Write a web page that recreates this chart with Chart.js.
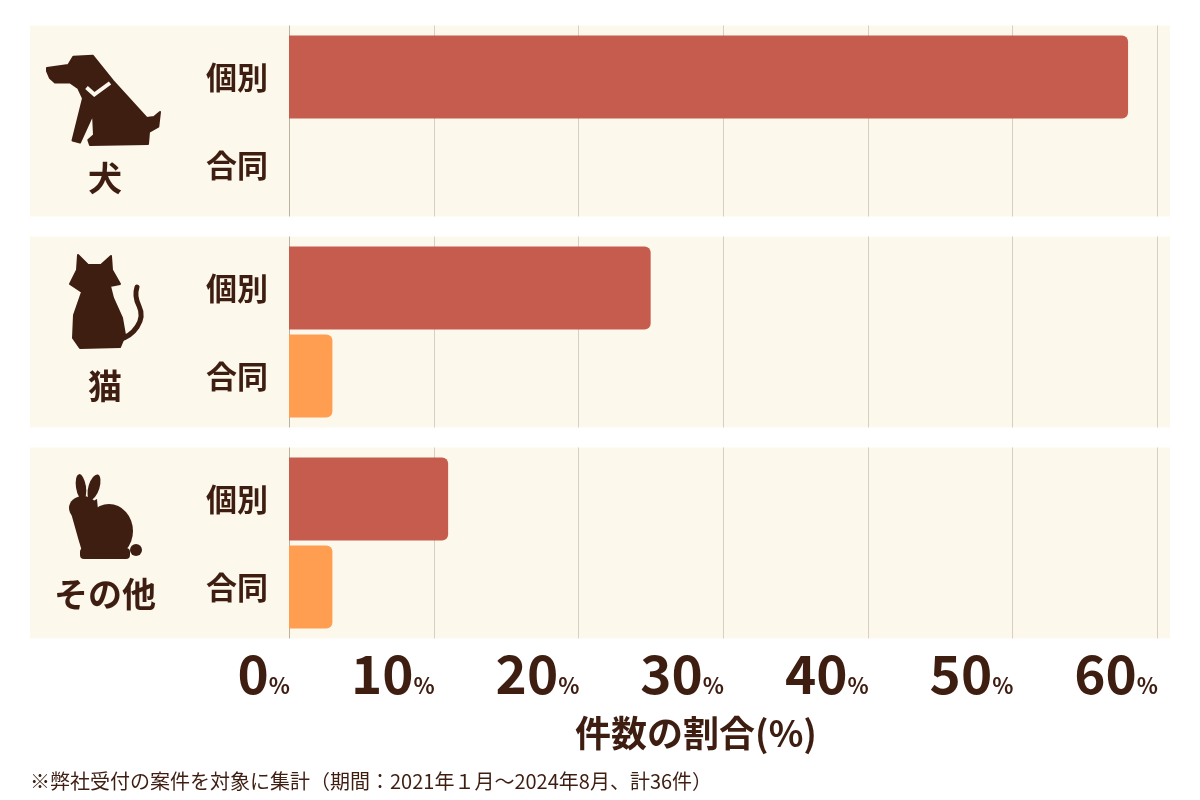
<!DOCTYPE html>
<html>
<head>
<meta charset="utf-8">
<script src="https://cdn.jsdelivr.net/npm/chart.js@4.4.1/dist/chart.umd.min.js"></script>
<style>
html,body{margin:0;padding:0;background:#ffffff;}
canvas{display:block;}
</style>
</head>
<body>
<canvas id="c" width="1200" height="800"></canvas>
<script>
// ---- data ----
const categories = ['犬', '猫', 'その他'];
const seriesNames = ['個別', '合同'];
const kobetsuValues = [58.0, 25.0, 11.0];
const goudouValues = [0, 3.0, 3.0];
const tickValues = [0, 10, 20, 30, 40, 50, 60];
const tickSuffix = '%';
const axisTitle = '件数の割合(%)';
const footnote = '※弊社受付の案件を対象に集計（期間：2021年１月～2024年8月、計36件）';

const BROWN = '#3f1e12';
const PANEL = '#fdf8ec';
const GRID = '#d6cfc2';
const FONT = '"Noto Sans CJK JP", "Noto Sans", sans-serif';

function poly(ctx, pts, ox, oy) {
  ctx.beginPath();
  pts.forEach((p, i) => { if (i === 0) ctx.moveTo(ox + p[0], oy + p[1]); else ctx.lineTo(ox + p[0], oy + p[1]); });
  ctx.closePath();
}

function drawDog(ctx, cy) {
  const pts = [[47,-53],[68.3,-56],[73.3,-64.3],[92.7,-65.3],[113,-40],[146.7,-3],[154,-4],[160,-9],[158.3,5.7],[149,11],[148,23],[90,24],[88.3,19],[94,14],[93,-7],[80,21.5],[72.5,19.5],[83,-22.7],[78.3,-32.7],[70,-38.5],[55,-38.5],[50,-43],[47,-50]];
  ctx.save();
  ctx.fillStyle = BROWN; ctx.strokeStyle = BROWN; ctx.lineJoin = 'round'; ctx.lineWidth = 2;
  poly(ctx, pts, 0, cy); ctx.fill(); ctx.stroke();
  ctx.strokeStyle = PANEL; ctx.lineWidth = 4; ctx.lineCap = 'butt'; ctx.lineJoin = 'miter';
  ctx.beginPath();
  ctx.moveTo(86.5, cy - 33.5); ctx.lineTo(94.3, cy - 26.5); ctx.lineTo(110, cy - 38);
  ctx.stroke();
  ctx.restore();
}

function drawCat(ctx, cy) {
  const pts = [[78,-77],[88,-67],[101,-67],[111,-76],[112,-62],[120,-48],[110,-46],[113,-34],[122,-14],[125,3],[120,15],[80,16],[73,6],[74,-17],[82,-40],[70,-48],[77,-62]];
  ctx.save();
  ctx.fillStyle = BROWN; ctx.strokeStyle = BROWN; ctx.lineJoin = 'round'; ctx.lineWidth = 2;
  poly(ctx, pts, 0, cy); ctx.fill(); ctx.stroke();
  ctx.lineWidth = 5; ctx.lineCap = 'round';
  ctx.beginPath();
  ctx.moveTo(118, cy + 8);
  ctx.bezierCurveTo(134, cy + 4, 146, cy - 12, 139, cy - 26);
  ctx.quadraticCurveTo(134, cy - 36, 137, cy - 45);
  ctx.stroke();
  ctx.restore();
}

function drawRabbit(ctx, cy) {
  ctx.save();
  ctx.fillStyle = BROWN;
  ctx.beginPath(); ctx.ellipse(81, cy - 56, 5, 13, -0.15, 0, Math.PI * 2); ctx.fill();
  ctx.beginPath(); ctx.ellipse(94, cy - 56, 5.5, 13, 0.3, 0, Math.PI * 2); ctx.fill();
  ctx.beginPath(); ctx.ellipse(83, cy - 35, 14, 12, 0, 0, Math.PI * 2); ctx.fill();
  ctx.beginPath(); ctx.ellipse(109, cy - 12, 24, 27, 0, 0, Math.PI * 2); ctx.fill();
  poly(ctx, [[71,-30],[97,-44],[102,10],[84,15],[78,-5]], 0, cy); ctx.fill();
  ctx.beginPath(); ctx.roundRect(80, cy + 5, 50, 11, 4); ctx.fill();
  ctx.beginPath(); ctx.arc(136, cy + 7, 6, 0, Math.PI * 2); ctx.fill();
  ctx.restore();
}

const iconFns = [drawDog, drawCat, drawRabbit];
const labelOffsets = [57, 54, 51];

const decoPlugin = {
  id: 'deco',
  beforeDraw(chart) {
    const { ctx } = chart;
    ctx.save();
    ctx.fillStyle = '#ffffff';
    ctx.fillRect(0, 0, chart.width, chart.height);
    ctx.restore();
  },
  beforeDatasetsDraw(chart) {
    const { ctx, chartArea } = chart;
    const xs = chart.scales.x, ys = chart.scales.y;
    const step = (chartArea.bottom - chartArea.top) / categories.length;
    const half = step * 0.905 / 2;
    ctx.save();
    categories.forEach((c, i) => {
      const cy = ys.getPixelForValue(i);
      const top = cy - half, bot = cy + half;
      ctx.fillStyle = PANEL;
      ctx.fillRect(30, top, chartArea.right + 13 - 30, bot - top);
      tickValues.forEach((v) => {
        const px = Math.round(xs.getPixelForValue(v)) + 0.5;
        ctx.strokeStyle = v === 0 ? '#b9b1a4' : GRID;
        ctx.lineWidth = 1;
        ctx.beginPath(); ctx.moveTo(px, top); ctx.lineTo(px, bot); ctx.stroke();
      });
    });
    ctx.restore();
  },
  afterDraw(chart) {
    const { ctx } = chart;
    const xs = chart.scales.x, ys = chart.scales.y;
    ctx.save();
    ctx.fillStyle = BROWN;
    categories.forEach((c, i) => {
      const cy = ys.getPixelForValue(i);
      iconFns[i](ctx, cy);
      ctx.font = 'bold 34px ' + FONT;
      ctx.textAlign = 'center'; ctx.textBaseline = 'middle';
      ctx.fillStyle = BROWN;
      ctx.fillText(c, 105, cy + labelOffsets[i]);
    });
    seriesNames.forEach((s, di) => {
      const meta = chart.getDatasetMeta(di);
      meta.data.forEach((bar) => {
        ctx.font = 'bold 31px ' + FONT;
        ctx.textAlign = 'right'; ctx.textBaseline = 'middle';
        ctx.fillText(s, 268, bar.y);
      });
    });
    const bigFont = 'bold 53px ' + FONT;
    const smallFont = 'bold 22px ' + FONT;
    ctx.textBaseline = 'alphabetic'; ctx.textAlign = 'left';
    tickValues.forEach((v) => {
      const px = xs.getPixelForValue(v);
      const num = String(v);
      ctx.font = smallFont;
      const sw = ctx.measureText(tickSuffix).width;
      ctx.font = bigFont;
      const nw = ctx.measureText(num).width;
      const x0 = px - sw - nw + 1;
      ctx.fillText(num, x0, 694);
      ctx.font = smallFont;
      ctx.fillText(tickSuffix, x0 + nw, 694);
    });
    ctx.font = 'bold 36px ' + FONT;
    ctx.textAlign = 'center'; ctx.textBaseline = 'middle';
    ctx.fillText(axisTitle, 696, 733);
    ctx.font = '20px ' + FONT;
    ctx.textAlign = 'left'; ctx.textBaseline = 'middle';
    ctx.fillText(footnote, 30, 781);
    ctx.restore();
  }
};

new Chart(document.getElementById('c'), {
  type: 'bar',
  data: {
    labels: categories,
    datasets: [
      { label: seriesNames[0], data: kobetsuValues, backgroundColor: '#c65c4d', borderRadius: 6, borderSkipped: 'start', categoryPercentage: 0.834, barPercentage: 0.943 },
      { label: seriesNames[1], data: goudouValues, backgroundColor: '#ff9d50', borderRadius: 6, borderSkipped: 'start', categoryPercentage: 0.834, barPercentage: 0.943 }
    ]
  },
  options: {
    indexAxis: 'y',
    responsive: false,
    animation: false,
    devicePixelRatio: 1,
    layout: { padding: { left: 289, right: 43, top: 15.5, bottom: 151.5 } },
    plugins: { legend: { display: false }, tooltip: { enabled: false } },
    scales: {
      x: {
        display: false,
        min: tickValues[0], max: tickValues[tickValues.length - 1],
        ticks: { stepSize: 10 },
        grid: { display: false }
      },
      y: {
        display: false,
        grid: { display: false }
      }
    }
  },
  plugins: [decoPlugin]
});
</script>
</body>
</html>
